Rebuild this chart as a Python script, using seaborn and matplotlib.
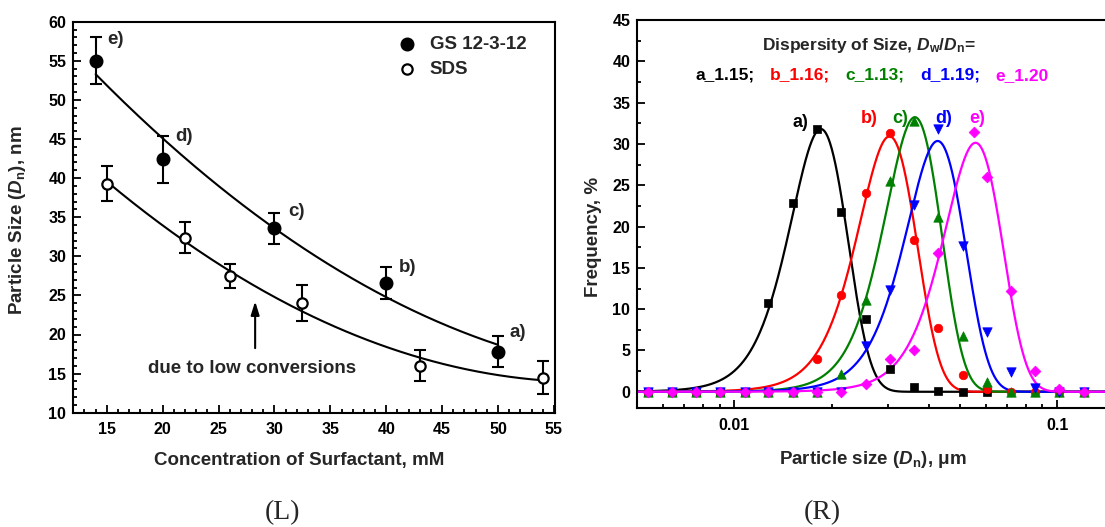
import numpy as np
import pandas as pd
import matplotlib
matplotlib.use("Agg")
import matplotlib.pyplot as plt
import seaborn as sns
from matplotlib.ticker import MultipleLocator, FixedLocator, NullFormatter, FuncFormatter

# ---------------- left panel: particle size vs. surfactant concentration
gs_conc = [14, 20, 30, 40, 50]
gs_size = [55.0, 42.4, 33.6, 26.6, 17.8]
gs_err = [3.0, 3.0, 2.0, 2.0, 2.0]
gs_tags = ["e)", "d)", "c)", "b)", "a)"]

sds_conc = [15, 22, 26, 32.5, 43, 54]
sds_size = [39.3, 32.4, 27.5, 24.0, 16.0, 14.5]
sds_err = [2.2, 2.0, 1.5, 2.3, 2.0, 2.1]

# ---------------- right panel: size distributions (particle size in um, frequency in %)
size_um = [0.00539, 0.00640, 0.00762, 0.00903, 0.01077, 0.01274, 0.01518,
           0.01804, 0.02146, 0.02551, 0.03034, 0.03606, 0.04285, 0.05093,
           0.06050, 0.07200, 0.08550, 0.1012, 0.1211]
size_um_e = [0.00539, 0.00640, 0.00762, 0.00903, 0.01077, 0.01274, 0.01518,
             0.01804, 0.02146, 0.02551, 0.03034, 0.03606, 0.04285, 0.0554,
             0.06050, 0.07200, 0.08550, 0.1012, 0.1211]
freq_a = [0, 0, 0, 0, 0, 10.8, 22.8, 31.8, 21.7, 8.8, 2.7, 0.6, 0.1, 0, 0]
freq_b = [0, 0, 0, 0, 0, 0, 0, 4.0, 11.7, 24.1, 31.3, 18.4, 7.75, 2.0, 0.36, 0, 0, 0, 0]
freq_c = [0, 0, 0, 0, 0, 0, 0, 0, 2.1, 11.1, 25.5, 32.8, 21.1, 6.7, 1.2, 0, 0, 0, 0]
freq_d = [0, 0, 0, 0, 0, 0, 0, 0, 0, 5.5, 12.3, 22.6, 31.8, 17.6, 7.2, 2.4, 0.5, 0, 0]
freq_e = [0, 0, 0, 0, 0, 0, 0, 0, 0, 0.9, 4.0, 5.1, 16.8, 31.5, 26.0, 12.2, 2.5, 0.3, 0]

series_names = ["a", "b", "c", "d", "e"]
dispersity = ["1.15", "1.16", "1.13", "1.19", "1.20"]
colors = ["black", "#FF0000", "#008000", "#0000FF", "#FF00FF"]
markers = ["s", "o", "^", "v", "D"]
marker_sizes = [30, 38, 46, 46, 30]

sns.set_style("ticks")
plt.rcParams["font.family"] = ["Liberation Sans", "DejaVu Sans"]
plt.rcParams["font.weight"] = "bold"
plt.rcParams["mathtext.fontset"] = "custom"
plt.rcParams["mathtext.rm"] = "Liberation Sans:bold"
plt.rcParams["mathtext.it"] = "Liberation Sans:italic:bold"
plt.rcParams["mathtext.bf"] = "Liberation Sans:bold"

W, H = 1105, 527
fig = plt.figure(figsize=(W / 100, H / 100), dpi=100)
LABEL_FS = 13.5
TICK_FS = 11.5


def px_axes(x0, y0, x1, y1):
    return fig.add_axes([x0 / W, 1 - y1 / H, (x1 - x0) / W, (y1 - y0) / H])


def px_text(x, y, s, **kw):
    return fig.text(x / W, 1 - y / H, s, **kw)


def style_axes(ax, lw=1.5):
    for s in ax.spines.values():
        s.set_linewidth(lw)
        s.set_color("black")
    ax.tick_params(which="both", direction="in", colors="black", width=1.3,
                   labelsize=TICK_FS)
    ax.tick_params(which="major", length=5.5)
    ax.tick_params(which="minor", length=3)
    ax.tick_params(axis="x", which="major", pad=7)
    ax.tick_params(axis="y", which="major", pad=5)


# ================= left panel
axL = px_axes(73.3, 21.7, 555, 412.7)
axL.set_xlim(12, 55.1)
axL.set_ylim(10, 60)

gs_fit = np.polyfit(gs_conc, gs_size, 2)
sds_fit = np.polyfit(sds_conc, sds_size, 2)
xg = np.linspace(min(gs_conc), max(gs_conc), 200)
xs = np.linspace(min(sds_conc), max(sds_conc), 200)
curves = pd.concat([
    pd.DataFrame({"c": xg, "d": np.polyval(gs_fit, xg), "s": "GS"}),
    pd.DataFrame({"c": xs, "d": np.polyval(sds_fit, xs), "s": "SDS"}),
])
sns.lineplot(data=curves, x="c", y="d", units="s", estimator=None, color="black",
             lw=1.5, ax=axL, legend=False, sort=False)

axL.errorbar(gs_conc, gs_size, yerr=gs_err, fmt="none", ecolor="black",
             elinewidth=1.5, capsize=4, capthick=1.5, zorder=3)
axL.errorbar(sds_conc, sds_size, yerr=sds_err, fmt="none", ecolor="black",
             elinewidth=1.5, capsize=4, capthick=1.5, zorder=3)
sns.scatterplot(x=gs_conc, y=gs_size, marker="o", s=82, color="black",
                edgecolor="black", linewidth=1.0, ax=axL, zorder=4,
                label="GS 12-3-12")
sns.scatterplot(x=sds_conc, y=sds_size, marker="o", s=55, color="white",
                edgecolor="black", linewidth=1.6, ax=axL, zorder=4,
                label="SDS")

tag_pos = [(14.75, 57.7), (20.8, 45.3), (30.9, 35.7), (40.8, 28.6), (50.7, 20.2)]
for t, (tx, ty) in zip(gs_tags, tag_pos):
    axL.text(tx + 0.3, ty, t, ha="left", va="center", fontsize=LABEL_FS,
             fontweight="bold")

axL.annotate("", xy=(28.27, 24.6), xytext=(28.27, 17.9),
             arrowprops=dict(arrowstyle="-|>,head_length=0.8,head_width=0.25",
                             color="black", lw=1.5))
axL.text(28.0, 15.6, "due to low conversions", ha="center", va="center",
         fontsize=LABEL_FS, fontweight="bold")

leg = axL.legend(loc="upper left", frameon=False, fontsize=LABEL_FS,
                 bbox_to_anchor=((398 - 73.3) / 481.7, 0.965), handletextpad=0.7,
                 labelspacing=0.45, borderaxespad=0.0, borderpad=0.0,
                 handlelength=1.0)
for t in leg.get_texts():
    t.set_fontweight("bold")

axL.xaxis.set_major_locator(FixedLocator(np.arange(15, 56, 5)))
axL.xaxis.set_minor_locator(MultipleLocator(1))
axL.yaxis.set_major_locator(MultipleLocator(5))
axL.yaxis.set_minor_locator(MultipleLocator(1))
style_axes(axL)
for lab in axL.get_xticklabels() + axL.get_yticklabels():
    lab.set_fontweight("bold")
axL.set_xlabel("")
axL.set_ylabel("")

px_text(299, 460, "Concentration of Surfactant, mM", fontsize=LABEL_FS,
        fontweight="bold", ha="center", va="center")
px_text(18, 220, r"Particle Size ($\mathit{D}_\mathrm{n}$), nm", fontsize=LABEL_FS,
        fontweight="bold", ha="center", va="center", rotation=90)

# ================= right panel
xlo, xhi = 0.005, 0.15
x0R = 637.3
dec = 322.7
x1R = x0R + dec * (np.log10(xhi) - np.log10(xlo))
axR = px_axes(x0R, 20, x1R, 408.3)
axR.set_xscale("log")
axR.set_xlim(xlo, xhi)
axR.set_ylim(-2, 45)


def gauss_fit(x, y):
    """Least-squares Gaussian in size: grid over centre/width, linear amplitude."""
    x = np.asarray(x, float)
    y = np.asarray(y, float)
    xp = x[np.argmax(y)]
    mus = np.linspace(0.75 * xp, 1.25 * xp, 301)
    sigs = np.linspace(0.05 * xp, 0.6 * xp, 276)
    M, S = np.meshgrid(mus, sigs, indexing="ij")
    G = np.exp(-0.5 * ((x[None, None, :] - M[..., None]) / S[..., None]) ** 2)
    A = (G * y).sum(-1) / (G * G).sum(-1)
    res = ((A[..., None] * G - y) ** 2).sum(-1)
    i, j = np.unravel_index(np.argmin(res), res.shape)
    return mus[i], sigs[j], A[i, j]


xs_all = [size_um[:len(freq_a)], size_um, size_um, size_um, size_um_e]
ys_all = [freq_a, freq_b, freq_c, freq_d, freq_e]
fine = np.logspace(np.log10(xlo), np.log10(xhi), 800)
for k, (xv, yv, col, mk, ms) in enumerate(zip(xs_all, ys_all, colors, markers,
                                              marker_sizes)):
    mu, sg, amp = gauss_fit(xv, yv)
    fit_df = pd.DataFrame({"x": fine, "y": amp * np.exp(-0.5 * ((fine - mu) / sg) ** 2)})
    sns.lineplot(data=fit_df, x="x", y="y", color=col, lw=1.6, ax=axR,
                 legend=False, zorder=2 + k * 0.1)
    sns.scatterplot(x=xv, y=yv, marker=mk, s=ms, color=col, edgecolor=col,
                    linewidth=0.5, ax=axR, zorder=3 + k * 0.1, legend=False)

peak_tags = [(0.01607, 32.6), (0.0261, 33.1), (0.0326, 33.1), (0.0445, 33.1), (0.0566, 33.1)]
for name, col, (tx, ty) in zip(series_names, colors, peak_tags):
    axR.text(tx, ty, name + ")", color=col, ha="center", va="center",
             fontsize=13, fontweight="bold")

style_axes(axR)
axR.spines["right"].set_visible(False)
axR.yaxis.set_major_locator(MultipleLocator(5))
axR.yaxis.set_minor_locator(MultipleLocator(2.5))
axR.xaxis.set_major_locator(FixedLocator([0.01, 0.1]))
axR.xaxis.set_major_formatter(FuncFormatter(lambda v, p: f"{v:g}"))
axR.xaxis.set_minor_locator(FixedLocator(
    [m * 10.0 ** e for e in (-3, -2, -1) for m in range(2, 10)]))
axR.xaxis.set_minor_formatter(NullFormatter())
for lab in axR.get_xticklabels() + axR.get_yticklabels():
    lab.set_fontweight("bold")
axR.set_xlabel("")
axR.set_ylabel("")

px_text(873, 460, r"Particle size ($\mathit{D}_\mathrm{n}$), μm", fontsize=LABEL_FS,
        fontweight="bold", ha="center", va="center")
px_text(593, 237, "Frequency, %", fontsize=LABEL_FS, fontweight="bold",
        ha="center", va="center", rotation=90)

# dispersity header
px_text(762, 50, r"Dispersity of Size, $\mathit{D}_\mathrm{w}$/$\mathit{D}_\mathrm{n}$=",
        fontsize=12.5, fontweight="bold", ha="left", va="baseline")
starts = [696, 770, 845, 920, 995]
for name, val, col, sx in zip(series_names, dispersity, colors, starts):
    tail = ";" if name != series_names[-1] else ""
    px_text(sx, 80, f"{name}_{val}{tail}", color=col, fontsize=12.5,
            fontweight="bold", ha="left", va="baseline")

# panel captions
for cx, cap in [(283, "(L)"), (822, "(R)")]:
    px_text(cx, 513, cap, fontsize=20, fontweight="normal", ha="center", va="center",
            family=["Liberation Serif", "DejaVu Serif"])

plt.savefig("out.png", dpi=100)
